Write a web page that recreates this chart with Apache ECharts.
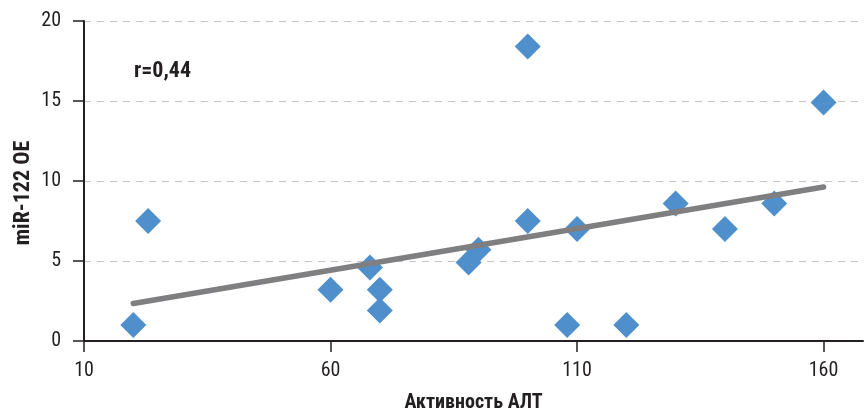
<!DOCTYPE html>
<html><head><meta charset="utf-8">
<script src="https://cdn.jsdelivr.net/npm/echarts@6/dist/echarts.min.js"></script>
<style>html,body{margin:0;padding:0;background:#fff}#c{width:864px;height:418px}</style>
</head><body><div id="c"></div>
<script>
const altValues = [20, 23, 60, 68, 70, 70, 88, 90, 100, 100, 108, 110, 120, 130, 140, 150, 160];
const mirValues = [1, 7.5, 3.2, 4.6, 3.2, 1.9, 4.9, 5.7, 18.4, 7.5, 1, 7, 1, 8.6, 7, 8.6, 14.9];
const trendX = [20, 160];
const trendY = [2.34, 9.63];
const xTicks = [10, 60, 110, 160];
const yTicks = [0, 5, 10, 15, 20];
const xTitle = 'Активность АЛТ';
const yTitle = 'miR-122 OE';
const rText = 'r=0,44';

const FONT = '"Liberation Sans Narrow", "Roboto Condensed", "Liberation Sans", Arial, sans-serif';
const points = altValues.map((x, i) => [x, mirValues[i]]);
const trend = trendX.map((x, i) => [x, trendY[i]]);

const chart = echarts.init(document.getElementById('c'), null, {renderer: 'canvas'});
chart.setOption({
  animation: false,
  backgroundColor: '#ffffff',
  grid: {left: 84, right: 1, top: 21, bottom: 77, containLabel: false},
  title: {text: rText, left: 129, top: 55, textStyle: {fontFamily: FONT, fontSize: 22, fontWeight: 'bold', color: '#231f20'}},
  graphic: [{
    type: 'text', x: 12, y: 193, rotation: Math.PI / 2,
    style: {text: yTitle, fontFamily: FONT, fontSize: 22, fontWeight: 'bold', fill: '#231f20', align: 'center', verticalAlign: 'top'}
  }],
  xAxis: {
    type: 'value', min: 10, max: 168,
    name: xTitle, nameLocation: 'middle', nameGap: 52,
    nameTextStyle: {fontFamily: FONT, fontSize: 20, fontWeight: 'bold', color: '#231f20'},
    axisLine: {show: true, onZero: false, lineStyle: {color: '#231f20', width: 2}},
    axisTick: {show: true, inside: false, length: 11, customValues: xTicks, lineStyle: {color: '#231f20', width: 1.5}},
    axisLabel: {customValues: xTicks, margin: 20, fontFamily: FONT, fontSize: 20, color: '#231f20'},
    splitLine: {show: false}
  },
  yAxis: {
    type: 'value', min: 0, max: 20, interval: 5,
    axisLine: {show: true, lineStyle: {color: '#231f20', width: 2}},
    axisTick: {show: true, inside: false, length: 11, customValues: yTicks, lineStyle: {color: '#231f20', width: 1.5}},
    axisLabel: {customValues: yTicks, margin: 23, fontFamily: FONT, fontSize: 20, color: '#231f20'},
    splitLine: {show: true, lineStyle: {color: '#c4c4c4', width: 1.2, type: [7, 6]}}
  },
  series: [
    {
      type: 'scatter', data: points, symbol: 'diamond', symbolSize: [26, 26],
      itemStyle: {color: '#4f8fcc', opacity: 1}, z: 2
    },
    {
      type: 'line', data: trend, symbol: 'none', showSymbol: false,
      lineStyle: {color: '#7f7f81', width: 5.5, cap: 'round'}, z: 3
    }
  ]
});
</script>
</body></html>
